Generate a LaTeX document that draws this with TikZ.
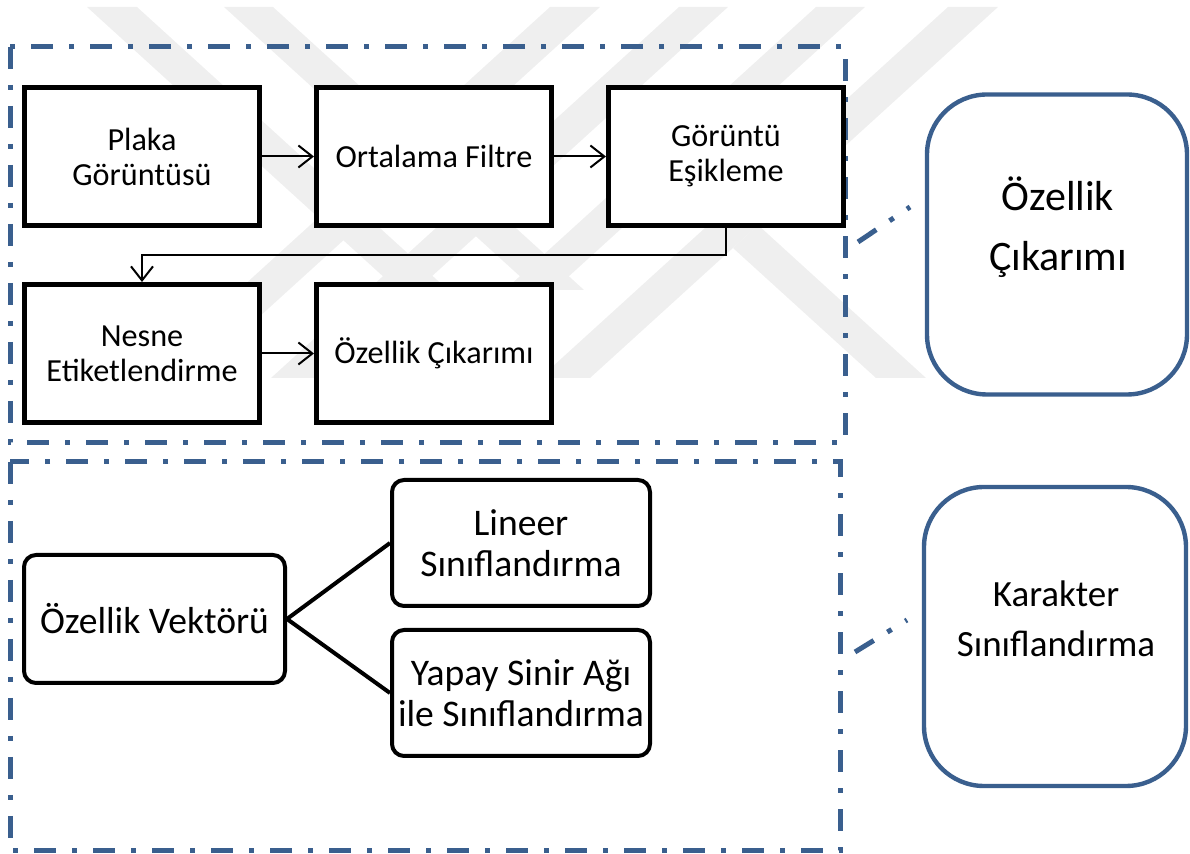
\documentclass[tikz,border=0pt]{standalone}
\usepackage{fontspec}
\setmainfont{Carlito}
\usetikzlibrary{positioning,arrows.meta}
\definecolor{frameblue}{RGB}{58,95,142}
\definecolor{markgray}{RGB}{239,239,239}

\begin{document}
\begin{tikzpicture}[x=0.5pt,y=-0.5pt,
		procbox/.style={draw, fill=white, line width=2.5pt, minimum width=117.5pt, minimum height=69pt, align=center, inner sep=0pt, font=\fontsize{16.1}{17.5}\selectfont},
		roundbox/.style={draw, fill=white, line width=2pt, rounded corners=6pt, align=center, inner sep=0pt, font=\fontsize{18.8}{20.5}\selectfont},
		bigbox/.style={draw=frameblue, fill=white, line width=2.2pt, rounded corners=30pt, minimum width=130pt, minimum height=150pt},
		flow/.style={line width=1pt, -{Straight Barb[length=7pt,width=11pt]}},
		fork/.style={line width=2pt},
		dashdot/.style={draw=frameblue, line width=2.5pt, dash pattern=on 11pt off 8pt on 2.5pt off 8pt}]
		\useasboundingbox (0,0) rectangle (1190,854);
		% faint logo in the background
		\fill[markgray] (87,7) -- (137,7) -- (448,290) -- (398,290) -- cycle;
		\fill[markgray] (224,7) -- (273,7) -- (584,290) -- (535,290) -- cycle;
		\fill[markgray] (550,7) -- (600,7) -- (192,378) -- (142,378) -- cycle;
		\fill[markgray] (679,7) -- (728,7) -- (320,378) -- (271,378) -- cycle;
		\fill[markgray] (816,7) -- (865,7) -- (457,378) -- (408,378) -- cycle;
		\fill[markgray] (948,7) -- (998,7) -- (590,378) -- (540,378) -- cycle;
		\fill[markgray] (758,225) -- (926,378) -- (876,378) -- (733,248) -- cycle;
		% the two stage frames
		\draw[dashdot] (10,47) rectangle (845,443);
		\draw[dashdot] (10,462) rectangle (840,851);
		% first stage
		\node[procbox] (plaka) at (142,156.5) {Plaka\\Görüntüsü};
		\node[procbox, right=26pt of plaka] (ortalama) {Ortalama Filtre};
		\node[procbox, right=26pt of ortalama] (esik) {Görüntü\\Eşikleme};
		\node[procbox, below=27pt of plaka] (nesne) {Nesne\\Etiketlendirme};
		\node[procbox, right=26pt of nesne] (ozcik) {Özellik Çıkarımı};
		\draw[flow] (plaka) -- (ortalama);
		\draw[flow] (ortalama) -- (esik);
		\draw[flow] (esik.south) -- ++(0,27) -| (nesne.north);
		\draw[flow] (nesne) -- (ozcik);
		% second stage
		\node[roundbox, minimum width=130.5pt, minimum height=64pt] (vektor) at (154.5,619) {Özellik Vektörü};
		\node[roundbox, minimum width=129pt, minimum height=63pt] (lineer) at (521,543) {Lineer\\Sınıflandırma};
		\node[roundbox, minimum width=129pt, minimum height=63pt] (yapay) at (521,693) {Yapay Sinir Ağı\\ile Sınıflandırma};
		\draw[fork] (vektor.east) -- (lineer.west);
		\draw[fork] (vektor.east) -- (yapay.west);
		% stage titles on the right
		\node[bigbox] (ozbox) at (1057,244.5) {};
		\node[font=\fontsize{21}{30}\selectfont, align=center] (oztext) at (1058,227) {Özellik\\Çıkarımı};
		\node[bigbox, minimum width=131pt, minimum height=149.5pt] (karbox) at (1055,636.5) {};
		\node[font=\fontsize{18.5}{25}\selectfont, align=center] (kartext) at (1056,619) {Karakter\\Sınıflandırma};
		\coordinate (ozlead) at (858,242);
		\coordinate (ozend) at (910,207);
		\coordinate (karlead) at (855,652);
		\coordinate (karend) at (907,620);
		\draw[dashdot] (ozlead) -- (ozend);
		\draw[dashdot] (karlead) -- (karend);
	\end{tikzpicture}
\end{document}
